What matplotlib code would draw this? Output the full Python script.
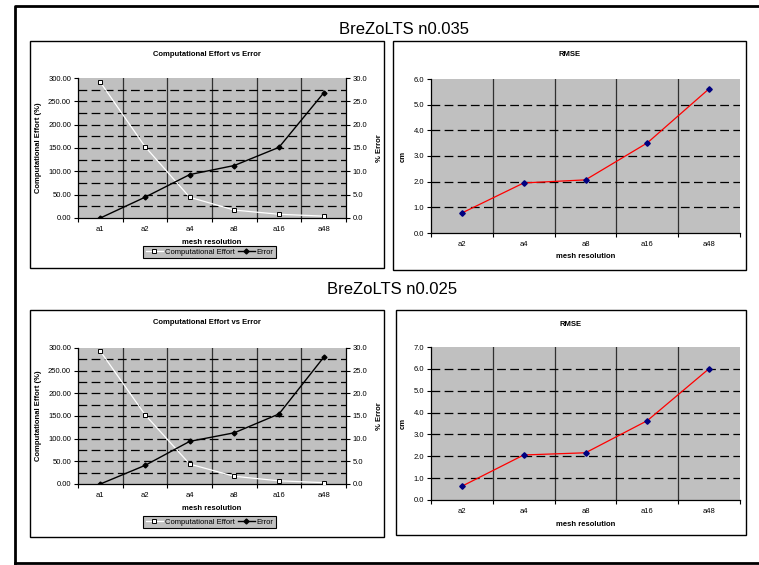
import matplotlib.pyplot as plt
from matplotlib.patches import Rectangle
from matplotlib.lines import Line2D
from matplotlib.ticker import FormatStrFormatter, MultipleLocator

plt.rcParams['font.family'] = ['Liberation Sans', 'DejaVu Sans']

# ----------------------------------------------------------
# Data
# ----------------------------------------------------------
effort_labels = ["a1", "a2", "a4", "a8", "a16", "a48"]
rmse_labels = ["a2", "a4", "a8", "a16", "a48"]

# n0.035
effort_035 = [291, 153, 44.5, 17, 8, 4]
error_035 = [0.0, 4.45, 9.3, 11.25, 15.15, 26.8]
rmse_035 = [0.78, 1.95, 2.07, 3.51, 5.62]

# n0.025
effort_025 = [293, 153, 44, 17, 7, 3]
error_025 = [0.0, 4.1, 9.4, 11.3, 15.45, 27.95]
rmse_025 = [0.63, 2.06, 2.16, 3.63, 6.01]

W, H = 759, 565
GRAY = "#C0C0C0"
FS = 5.5
DASH = (0, (7, 3.5))

fig = plt.figure(figsize=(W / 100, H / 100), dpi=100)


def px_axes(x0, y0, x1, y1):
    return fig.add_axes([x0 / W, 1 - y1 / H, (x1 - x0) / W, (y1 - y0) / H])


def px_box(x0, y0, x1, y1, lw=1.0):
    fig.patches.append(Rectangle((x0 / W, 1 - y1 / H), (x1 - x0) / W, (y1 - y0) / H,
                                 transform=fig.transFigure, facecolor="none",
                                 edgecolor="black", lw=lw, zorder=0))


def style_axes(ax, n):
    ax.set_facecolor(GRAY)
    ax.set_xlim(-0.5, n - 0.5)
    ax.set_xticks(range(n))
    ax.set_xticks([i + 0.5 for i in range(-1, n)], minor=True)
    ax.tick_params(axis="x", which="major", length=0, labelsize=FS, pad=6)
    ax.tick_params(axis="x", which="minor", length=3, width=0.8, direction="out")
    ax.tick_params(axis="y", labelsize=FS, length=3, width=0.8, pad=2)
    for s in ["top", "right"]:
        ax.spines[s].set_visible(False)
    ax.spines["left"].set_linewidth(0.9)
    ax.spines["bottom"].set_linewidth(0.9)
    for b in range(n - 1):
        ax.axvline(b + 0.5, color="#303030", lw=0.9, zorder=1)


def effort_chart(x0, y0, x1, y1, effort, error, box, leg_y, xl_y):
    px_box(*box)
    ax = px_axes(x0, y0, x1, y1)
    n = len(effort_labels)
    style_axes(ax, n)
    ax.set_xticklabels(effort_labels)
    ax.set_ylim(0, 300)
    ax.yaxis.set_major_locator(MultipleLocator(50))
    ax.yaxis.set_major_formatter(FormatStrFormatter("%.2f"))
    for v in range(25, 300, 25):
        ax.axhline(v, color="black", lw=0.9, ls=DASH, zorder=1)
    ax.plot(range(n), effort, color="white", lw=0.9, marker="s", ms=3.2,
            mfc="white", mec="black", mew=0.7, zorder=3)
    ax.set_ylabel("Computational Effort (%)", fontsize=FS, fontweight="bold", labelpad=4)
    ax2 = ax.twinx()
    ax2.set_ylim(0, 30)
    ax2.yaxis.set_major_locator(MultipleLocator(5))
    ax2.yaxis.set_major_formatter(FormatStrFormatter("%.1f"))
    ax2.tick_params(axis="y", labelsize=FS, length=3, width=0.8, pad=2)
    for s in ["top", "left", "bottom"]:
        ax2.spines[s].set_visible(False)
    ax2.spines["right"].set_linewidth(0.9)
    ax2.plot(range(n), error, color="black", lw=1.0, marker="D", ms=2.5,
             mfc="black", mec="black", zorder=3)
    ax2.set_ylabel("% Error", fontsize=FS, fontweight="bold", labelpad=6)
    fig.text((box[0] + box[2]) / 2 / W, 1 - (box[1] + 13) / H,
             "Computational Effort vs Error", ha="center", va="center",
             fontsize=FS, fontweight="bold")
    fig.text((x0 + x1) / 2 / W, 1 - xl_y / H, "mesh resolution", ha="center",
             va="center", fontsize=FS, fontweight="bold")
    handles = [
        Line2D([], [], color="white", lw=0.9, marker="s", ms=3.2, mfc="white",
               mec="black", mew=0.7),
        Line2D([], [], color="black", lw=1.0, marker="D", ms=2.5, mfc="black"),
    ]
    leg = fig.legend(handles, ["Computational Effort", "Error"], ncol=2,
                     loc="center", bbox_to_anchor=((x0 + x1) / 2 / W - 0.003, 1 - leg_y / H),
                     fontsize=FS, frameon=True, fancybox=False, facecolor=GRAY,
                     edgecolor="black", framealpha=1, handlelength=2.2,
                     handletextpad=0.3, columnspacing=0.4, borderpad=0.35)
    leg.get_frame().set_linewidth(0.8)


def rmse_chart(x0, y0, x1, y1, rmse, ymax, box, xl_y):
    px_box(*box)
    ax = px_axes(x0, y0, x1, y1)
    n = len(rmse_labels)
    style_axes(ax, n)
    ax.set_xticklabels(rmse_labels)
    ax.set_ylim(0, ymax)
    ax.yaxis.set_major_locator(MultipleLocator(1))
    ax.yaxis.set_major_formatter(FormatStrFormatter("%.1f"))
    for v in range(1, ymax):
        ax.axhline(v, color="black", lw=0.9, ls=DASH, zorder=1)
    ax.plot(range(n), rmse, color="red", lw=0.9, marker="D", ms=2.8,
            mfc="#000080", mec="#000080", zorder=3)
    ax.set_ylabel("cm", fontsize=FS, fontweight="bold", labelpad=5)
    fig.text((box[0] + box[2]) / 2 / W, 1 - (box[1] + 14) / H, "RMSE",
             ha="center", va="center", fontsize=FS, fontweight="bold")
    fig.text((x0 + x1) / 2 / W, 1 - xl_y / H, "mesh resolution", ha="center",
             va="center", fontsize=FS, fontweight="bold")


# outer frame (left, top, bottom)
fig.add_artist(Line2D([15 / W, 15 / W, 1], [1 - 563 / H, 1 - 6 / H, 1 - 6 / H],
                      transform=fig.transFigure, color="black", lw=2))
fig.add_artist(Line2D([15 / W, 1], [1 - 563 / H, 1 - 563 / H],
                      transform=fig.transFigure, color="black", lw=2))

fig.text(404 / W, 1 - 30 / H, "BreZoLTS n0.035", ha="center", va="center", fontsize=12)
fig.text(392 / W, 1 - 290 / H, "BreZoLTS n0.025", ha="center", va="center", fontsize=12)

effort_chart(78, 78, 346, 218, effort_035, error_035, (30, 41, 384, 268), 252, 242)
rmse_chart(431, 79, 740, 233, rmse_035, 6, (393, 41, 746, 270), 257)
effort_chart(78, 348, 346, 484, effort_025, error_025, (30, 310, 384, 537), 522, 509)
rmse_chart(431, 347, 740, 500, rmse_025, 7, (396, 310, 746, 535), 524)

fig.savefig("out.png", dpi=100)
